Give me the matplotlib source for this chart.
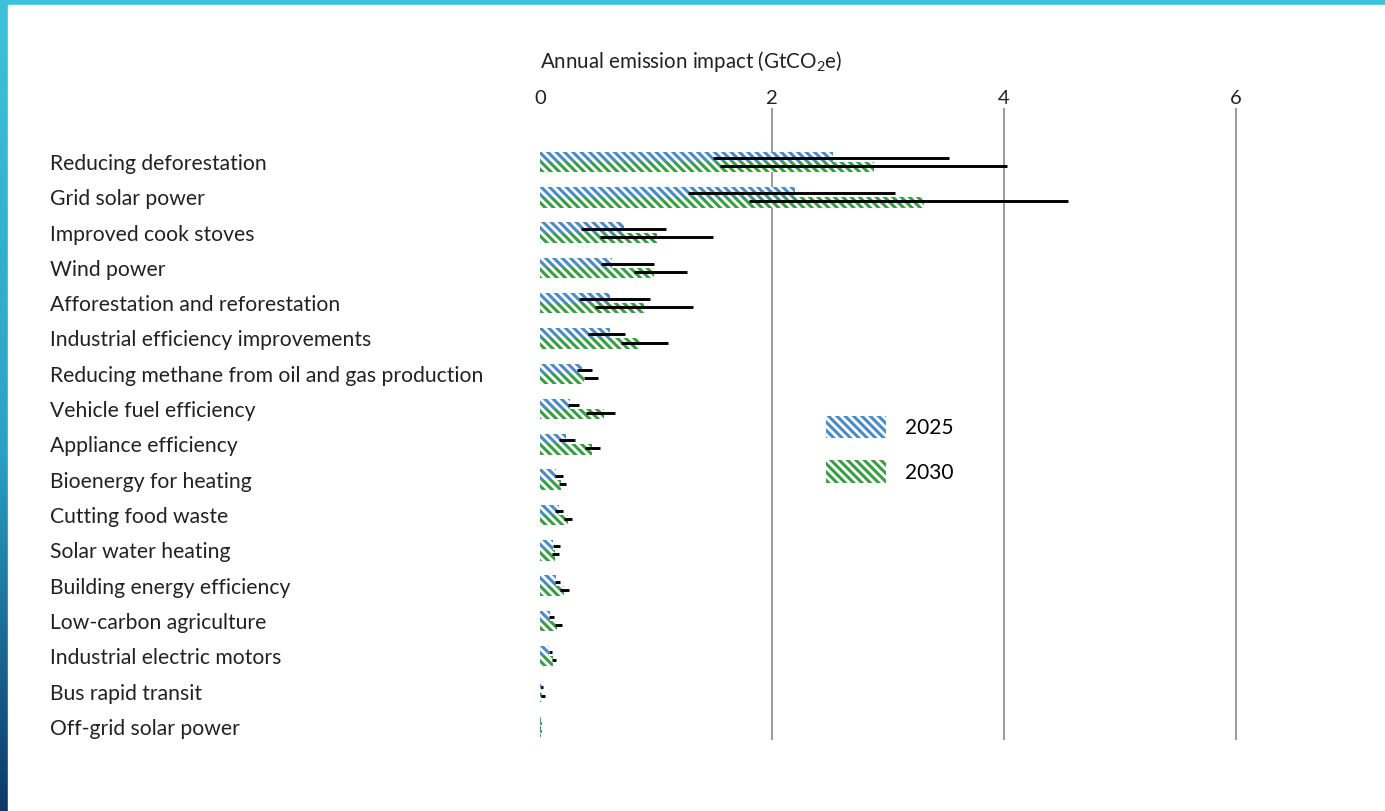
import matplotlib.pyplot as plt
import matplotlib.patches as mpatches
import numpy as np

plt.rcParams['font.family'] = ['Lato', 'DejaVu Sans']
plt.rcParams['mathtext.fontset'] = 'custom'
plt.rcParams['mathtext.rm'] = 'Lato'
plt.rcParams['hatch.linewidth'] = 2.0

categories = [
    "Reducing deforestation",
    "Grid solar power",
    "Improved cook stoves",
    "Wind power",
    "Afforestation and reforestation",
    "Industrial efficiency improvements",
    "Reducing methane from oil and gas production",
    "Vehicle fuel efficiency",
    "Appliance efficiency",
    "Bioenergy for heating",
    "Cutting food waste",
    "Solar water heating",
    "Building energy efficiency",
    "Low-carbon agriculture",
    "Industrial electric motors",
    "Bus rapid transit",
    "Off-grid solar power",
]

# central estimates (GtCO2e per year)
v2025 = [2.53, 2.20, 0.72, 0.62, 0.60, 0.60, 0.36, 0.26, 0.22, 0.14, 0.16,
         0.11, 0.14, 0.09, 0.08, 0.02, 0.005]
v2030 = [2.88, 3.31, 1.01, 0.98, 0.90, 0.85, 0.38, 0.55, 0.45, 0.18, 0.24,
         0.13, 0.21, 0.15, 0.11, 0.02, 0.005]

# low / high range
lo2025 = [1.49, 1.28, 0.35, 0.53, 0.34, 0.41, 0.32, 0.24, 0.16, 0.13, 0.13,
          0.11, 0.13, 0.08, 0.08, 0.01, 0.0]
hi2025 = [3.53, 3.06, 1.09, 0.98, 0.95, 0.73, 0.45, 0.34, 0.30, 0.20, 0.20,
          0.17, 0.17, 0.12, 0.10, 0.03, 0.005]
lo2030 = [1.55, 1.80, 0.52, 0.81, 0.47, 0.70, 0.38, 0.40, 0.39, 0.16, 0.21,
          0.10, 0.17, 0.13, 0.10, 0.01, 0.0]
hi2030 = [4.03, 4.55, 1.49, 1.27, 1.32, 1.10, 0.50, 0.65, 0.52, 0.22, 0.28,
          0.16, 0.25, 0.19, 0.14, 0.04, 0.005]

years = ["2025", "2030"]
xticks = [0, 2, 4, 6]

blue = "#4b8bc6"
green = "#3a9f44"

W, H = 1385, 811
fig = plt.figure(figsize=(W / 100, H / 100), dpi=100)

# slide frame: gradient strips along the top and left
bg = fig.add_axes([0, 0, 1, 1])
grad = np.linspace(0, 1, 256).reshape(-1, 1)
c_top = np.array([0x3e, 0xc2, 0xda]) / 255
c_mid = np.array([0x2a, 0xa2, 0xc8]) / 255
c_bot = np.array([0x0c, 0x38, 0x6a]) / 255
g = grad[:, :, None]
img = np.where(g < 0.55,
               c_top * (1 - g / 0.55) + c_mid * (g / 0.55),
               c_mid * (1 - (g - 0.55) / 0.45) + c_bot * ((g - 0.55) / 0.45))
bg.imshow(img, aspect='auto', extent=[0, 1, 0, 1], origin='upper')
bg.add_patch(mpatches.Rectangle((8 / W, 0), 1, 1 - 5 / H, color='white'))
bg.set_xlim(0, 1)
bg.set_ylim(0, 1)
bg.axis('off')

# main axes: x=0 at px 540, 116 px per unit; rows 35.3 px apart
x0, ppu = 540, 116.0
xmax = 6.5
row = 35.3
ytop, ybot = -1.52, 16.37
top_px = 162 + ytop * row
bot_px = 162 + ybot * row
ax = fig.add_axes([x0 / W, 1 - bot_px / H, xmax * ppu / W, (bot_px - top_px) / H])
ax.set_facecolor('none')

y = np.arange(len(categories))
h = 0.29
off = 0.145

ax.barh(y - off, v2025, height=h, color=blue, edgecolor='white', linewidth=0,
        hatch='\\\\\\\\', zorder=2)
ax.barh(y + off, v2030, height=h, color=green, edgecolor='white', linewidth=0,
        hatch='\\\\\\\\', zorder=2)

ax.hlines(y - off + 0.03, lo2025, hi2025, color='black', linewidth=2.1, zorder=3)
ax.hlines(y + off - 0.03, lo2030, hi2030, color='black', linewidth=2.1, zorder=3)

for xv in xticks[1:]:
    ax.axvline(xv, color='#9a9a9a', linewidth=1.4, zorder=1)

ax.set_xlim(0, xmax)
ax.set_ylim(ybot, ytop)
for s in ax.spines.values():
    s.set_visible(False)

ax.xaxis.tick_top()
ax.set_xticks(xticks)
ax.set_xticklabels([str(t) for t in xticks], fontsize=14.5, color='#222222')
ax.tick_params(axis='x', length=0, pad=1)

ax.set_yticks(y)
ax.set_yticklabels(categories, fontsize=15.2, color='#222222', ha='left')
ax.tick_params(axis='y', length=0, pad=(x0 - 50) * 0.72)

fig.text(x0 / W, 1 - 62 / H, r'Annual emission impact (GtCO$_2$e)',
         fontsize=14.8, color='#222222', ha='left', va='center')

# legend
handles = [mpatches.Patch(facecolor=blue, edgecolor='white', linewidth=0, hatch='\\\\\\\\'),
           mpatches.Patch(facecolor=green, edgecolor='white', linewidth=0, hatch='\\\\\\\\')]
leg = ax.legend(handles, years, loc='upper left',
                bbox_to_anchor=((807 - x0) / (xmax * ppu), (bot_px - 397) / (bot_px - top_px)),
                frameon=False, fontsize=15, handlelength=2.9, handleheight=1.3,
                labelspacing=1.05, handletextpad=0.9)

fig.savefig('out.png', dpi=100)
